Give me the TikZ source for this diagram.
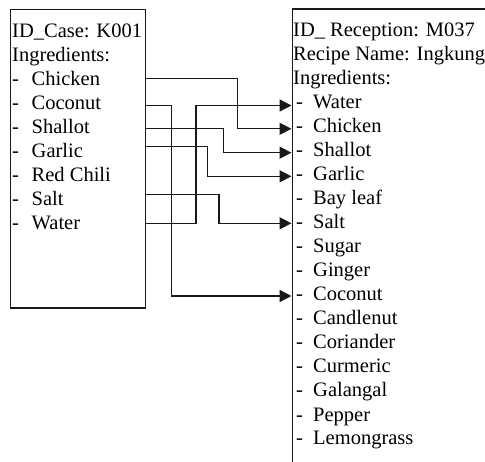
\documentclass[tikz,border=0pt]{standalone}
\usepackage{fontspec}
\setmainfont{Liberation Serif}
\usetikzlibrary{arrows.meta}
\begin{document}
\begin{tikzpicture}[x=1pt,y=-1pt,
  txt/.style={font=\fontsize{20.5}{24}\selectfont, inner sep=0pt, anchor=base west},
  boxline/.style={line width=1.4pt, draw=black!90},
  conn/.style={line width=1.4pt, draw=black!90, -{Triangle[length=12pt,width=12pt]}}]
\useasboundingbox (0,0) rectangle (485,462);
% left box
\node[boxline, draw, minimum width=134.5pt, minimum height=298.5pt, inner sep=0pt, anchor=north west] (lbox) at (10,9) {};
\node[txt] (lid) at (12,37.5) {ID\_Case: K001};
\node[txt] (ling) at (12,61.5) {Ingredients:};
\foreach \nm [count=\i] in {Chicken,Coconut,Shallot,Garlic,Red Chili,Salt,Water}{
  \node[txt] (ld\i) at (12,61.5+24*\i) {-};
  \node[txt] (li\i) at (31.5,61.5+24*\i) {\nm};
}
% right box
\coordinate (rtl) at (292.3,9);
\coordinate (rtr) at (485,9);
\coordinate (rbl) at (292.3,462);
\draw[boxline] (rtr) -- (rtl) -- (rbl);
\node[txt] (rid) at (293,37) {ID\_ Reception: M037};
\node[txt] (rrec) at (293,61) {Recipe Name: Ingkung};
\node[txt] (ring) at (293,85) {Ingredients:};
\foreach \nm [count=\i] in {Water,Chicken,Shallot,Garlic,Bay leaf,Salt,Sugar,Ginger,Coconut,Candlenut,Coriander,Curmeric,Galangal,Pepper,Lemongrass}{
  \node[txt] (rd\i) at (296,85+24*\i) {-};
  \node[txt] (ri\i) at (313,85+24*\i) {\nm};
}
% start points on left box
\coordinate (sChicken) at (144.5,78.3);
\coordinate (sCoconut) at (144.5,105.7);
\coordinate (sShallot) at (144.5,128.3);
\coordinate (sGarlic)  at (144.5,146.7);
\coordinate (sSalt)    at (144.5,194.3);
\coordinate (sWater)   at (144.5,223.3);
% end points on right box
\coordinate (eWater)   at (291.5,105.5);
\coordinate (eChicken) at (291.5,128.8);
\coordinate (eShallot) at (291.5,152.7);
\coordinate (eGarlic)  at (291.5,176.3);
\coordinate (eSalt)    at (291.5,223.3);
\coordinate (eCoconut) at (291.5,296);
% vertical lanes
\coordinate (xChicken) at (237.7,0);
\coordinate (xCoconut) at (171.7,0);
\coordinate (xShallot) at (223.3,0);
\coordinate (xGarlic)  at (207.7,0);
\coordinate (xSalt)    at (219,0);
\coordinate (xWater)   at (196,0);
\draw[conn] (sChicken) -| (xChicken |- eChicken) -- (eChicken);
\draw[conn] (sCoconut) -| (xCoconut |- eCoconut) -- (eCoconut);
\draw[conn] (sShallot) -| (xShallot |- eShallot) -- (eShallot);
\draw[conn] (sGarlic)  -| (xGarlic |- eGarlic) -- (eGarlic);
\draw[conn] (sSalt)    -| (xSalt |- eSalt) -- (eSalt);
\draw[conn] (sWater)   -| (xWater |- eWater) -- (eWater);
\end{tikzpicture}
\end{document}
